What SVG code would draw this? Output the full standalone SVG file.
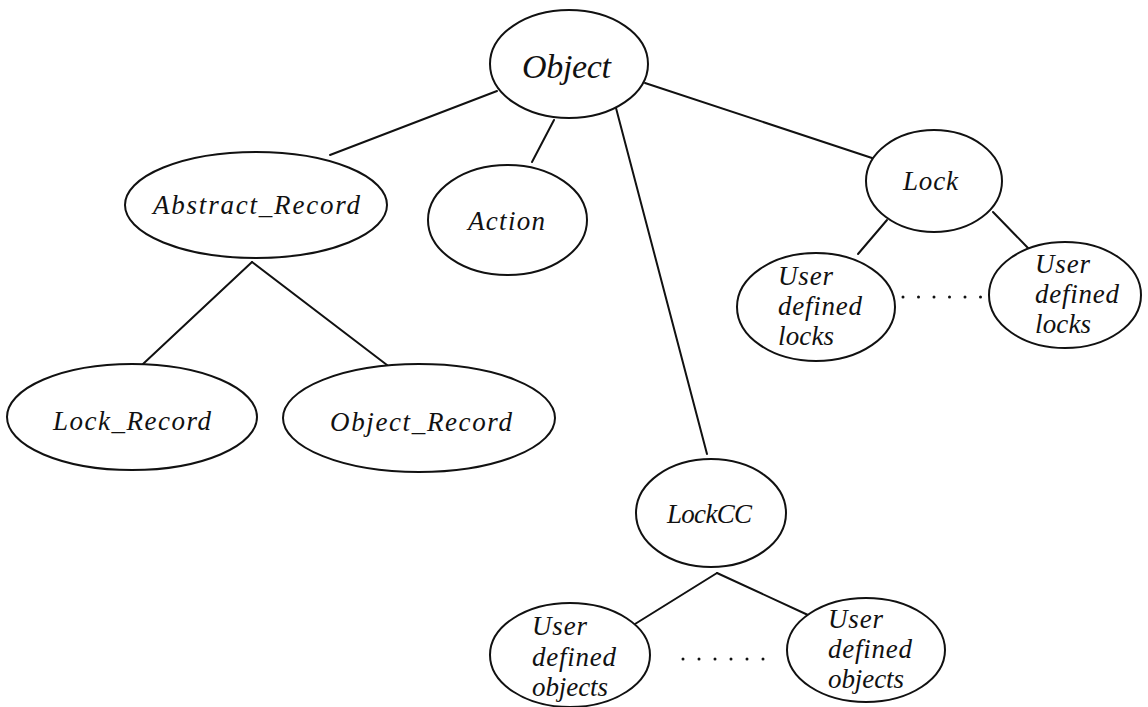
<svg xmlns="http://www.w3.org/2000/svg" width="1148" height="707" viewBox="0 0 1148 707">
  <style>
    .node ellipse { fill: #fff; stroke: #111; stroke-width: 2; }
    .edges line { stroke: #111; stroke-width: 2; stroke-linecap: round; }
    .dots circle { fill: #111; }
    text { font-family: "Liberation Serif", "DejaVu Serif", serif; font-style: italic; font-size: 27px; fill: #111; }
    .big { font-size: 34px; }
  </style>
  <rect width="1148" height="707" fill="#fff"/>

  <!-- inheritance links -->
  <g id="connectors" class="edges">
    <line x1="497" y1="91" x2="330" y2="155"/>
    <line x1="554" y1="120" x2="532" y2="162"/>
    <line x1="616" y1="108" x2="707" y2="454"/>
    <line x1="645" y1="83" x2="872" y2="158"/>
    <line x1="252" y1="262" x2="143" y2="364"/>
    <line x1="252" y1="262" x2="387" y2="365"/>
    <line x1="887" y1="220" x2="858" y2="254"/>
    <line x1="993" y1="212" x2="1028" y2="248"/>
    <line x1="717" y1="573" x2="635" y2="624"/>
    <line x1="717" y1="573" x2="808" y2="615"/>
  </g>

  <g id="object" class="node">
    <ellipse cx="569" cy="64" rx="79" ry="54"/>
    <text class="big" x="522" y="78" textLength="89">Object</text>
  </g>

  <g id="abstract-record" class="node">
    <ellipse cx="256" cy="205" rx="131" ry="53"/>
    <text x="153" y="214" textLength="207">Abstract_Record</text>
  </g>

  <g id="action" class="node">
    <ellipse cx="507.5" cy="220" rx="79.5" ry="55"/>
    <text x="468" y="230" textLength="77">Action</text>
  </g>

  <g id="lock" class="node">
    <ellipse cx="934" cy="181" rx="68" ry="51"/>
    <text x="903" y="190" textLength="55">Lock</text>
  </g>

  <g id="lock-record" class="node">
    <ellipse cx="132" cy="417" rx="125" ry="53"/>
    <text x="53" y="430" textLength="158">Lock_Record</text>
  </g>

  <g id="object-record" class="node">
    <ellipse cx="419" cy="418" rx="136" ry="54"/>
    <text x="330" y="431" textLength="182">Object_Record</text>
  </g>

  <g id="user-locks-1" class="node">
    <ellipse cx="816" cy="307" rx="79" ry="54"/>
    <text x="778" y="285" textLength="55">User</text>
    <text x="778" y="315" textLength="84">defined</text>
    <text x="778" y="345" textLength="56">locks</text>
  </g>

  <g id="user-locks-2" class="node">
    <ellipse cx="1065" cy="295" rx="76" ry="53"/>
    <text x="1035" y="273" textLength="55">User</text>
    <text x="1035" y="303" textLength="84">defined</text>
    <text x="1035" y="333" textLength="56">locks</text>
  </g>

  <g id="lockcc" class="node">
    <ellipse cx="711" cy="513" rx="75" ry="54"/>
    <text x="667" y="523" textLength="85">LockCC</text>
  </g>

  <g id="user-objects-1" class="node">
    <ellipse cx="570" cy="655" rx="80" ry="52"/>
    <text x="532" y="635" textLength="55">User</text>
    <text x="532" y="666" textLength="84">defined</text>
    <text x="532" y="696" textLength="76">objects</text>
  </g>

  <g id="user-objects-2" class="node">
    <ellipse cx="866" cy="650" rx="79" ry="52"/>
    <text x="828" y="628" textLength="55">User</text>
    <text x="828" y="658" textLength="84">defined</text>
    <text x="828" y="688" textLength="76">objects</text>
  </g>

  <!-- ellipsis marks between sibling user classes -->
  <g id="ellipsis-locks" class="dots">
    <circle cx="903" cy="297" r="1.5"/>
    <circle cx="918.5" cy="297" r="1.5"/>
    <circle cx="934" cy="297" r="1.5"/>
    <circle cx="949.5" cy="297" r="1.5"/>
    <circle cx="965" cy="297" r="1.5"/>
    <circle cx="980.5" cy="297" r="1.5"/>
  </g>
  <g id="ellipsis-objects" class="dots">
    <circle cx="683" cy="659" r="1.5"/>
    <circle cx="699" cy="659" r="1.5"/>
    <circle cx="715" cy="659" r="1.5"/>
    <circle cx="731" cy="659" r="1.5"/>
    <circle cx="747" cy="659" r="1.5"/>
    <circle cx="763" cy="659" r="1.5"/>
  </g>
</svg>
